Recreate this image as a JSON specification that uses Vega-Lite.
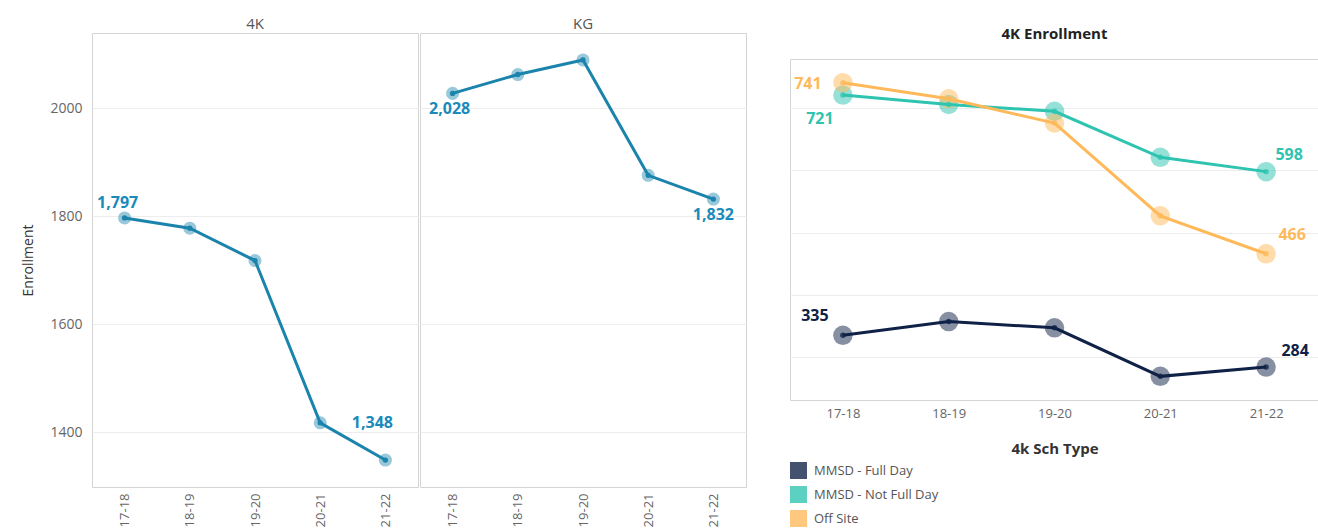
{
  "$schema": "https://vega.github.io/schema/vega-lite/v6.json",
  "padding": {"left": 21, "top": 16, "right": 0, "bottom": 0},
  "background": "white",
  "config": {
    "font": "Open Sans",
    "view": {"stroke": "#d4d4d4"},
    "axis": {"gridColor": "#ededed", "domain": false, "ticks": false, "labelColor": "#666", "labelFontSize": 13, "titleFontWeight": "normal", "titleColor": "#333"},
    "title": {"fontSize": 15, "fontWeight": "normal", "color": "#555", "anchor": "middle"}
  },
  "datasets": {
    "grade": [
      {"Grade": "4K", "Year": "17-18", "Enrollment": 1797},
      {"Grade": "4K", "Year": "18-19", "Enrollment": 1778},
      {"Grade": "4K", "Year": "19-20", "Enrollment": 1718},
      {"Grade": "4K", "Year": "20-21", "Enrollment": 1417},
      {"Grade": "4K", "Year": "21-22", "Enrollment": 1348},
      {"Grade": "KG", "Year": "17-18", "Enrollment": 2028},
      {"Grade": "KG", "Year": "18-19", "Enrollment": 2063},
      {"Grade": "KG", "Year": "19-20", "Enrollment": 2090},
      {"Grade": "KG", "Year": "20-21", "Enrollment": 1876},
      {"Grade": "KG", "Year": "21-22", "Enrollment": 1832}
    ],
    "types": [
      {"Type": "MMSD - Full Day", "Year": "17-18", "Enrollment": 335},
      {"Type": "MMSD - Full Day", "Year": "18-19", "Enrollment": 357},
      {"Type": "MMSD - Full Day", "Year": "19-20", "Enrollment": 347},
      {"Type": "MMSD - Full Day", "Year": "20-21", "Enrollment": 269},
      {"Type": "MMSD - Full Day", "Year": "21-22", "Enrollment": 284},
      {"Type": "MMSD - Not Full Day", "Year": "17-18", "Enrollment": 721},
      {"Type": "MMSD - Not Full Day", "Year": "18-19", "Enrollment": 706},
      {"Type": "MMSD - Not Full Day", "Year": "19-20", "Enrollment": 695},
      {"Type": "MMSD - Not Full Day", "Year": "20-21", "Enrollment": 621},
      {"Type": "MMSD - Not Full Day", "Year": "21-22", "Enrollment": 598},
      {"Type": "Off Site", "Year": "17-18", "Enrollment": 741},
      {"Type": "Off Site", "Year": "18-19", "Enrollment": 715},
      {"Type": "Off Site", "Year": "19-20", "Enrollment": 676},
      {"Type": "Off Site", "Year": "20-21", "Enrollment": 527},
      {"Type": "Off Site", "Year": "21-22", "Enrollment": 466}
    ]
  },
  "resolve": {"scale": {"color": "independent"}, "legend": {"color": "independent"}},
  "spacing": 42,
  "hconcat": [
    {
      "spacing": 0,
      "hconcat": [
        {
          "width": 326,
          "height": 454,
          "title": {"text": "4K", "offset": 1},
          "data": {"name": "grade"},
          "transform": [{"filter": "datum.Grade == '4K'"}],
          "encoding": {
            "x": {"field": "Year", "type": "ordinal", "scale": {"type": "point", "padding": 0.5}, "axis": {"title": null, "labelAngle": -90, "labelPadding": 6, "grid": false}},
            "y": {"field": "Enrollment", "type": "quantitative", "scale": {"domain": [1298, 2140], "nice": false, "zero": false}, "axis": {"title": "Enrollment", "titleFontSize": 14, "labelFontSize": 14, "values": [1400, 1600, 1800, 2000], "format": "d", "labelPadding": 10, "titlePadding": 14}}
          },
          "layer": [
            {"mark": {"type": "line", "color": "#1b84ad", "strokeWidth": 3}},
            {"mark": {"type": "circle", "size": 170, "color": "#1b84ad", "opacity": 0.45}},
            {"mark": {"type": "circle", "size": 28, "color": "#1b84ad", "opacity": 1}},
            {"transform": [{"filter": "datum.Year == '17-18'"}], "mark": {"type": "text", "dx": -7, "dy": -15, "fontSize": 16, "fontWeight": "bold", "color": "#1a8abb"}, "encoding": {"text": {"field": "Enrollment", "type": "quantitative", "format": ","}}},
            {"transform": [{"filter": "datum.Year == '21-22'"}], "mark": {"type": "text", "dx": -13, "dy": -37, "fontSize": 16, "fontWeight": "bold", "color": "#1a8abb"}, "encoding": {"text": {"field": "Enrollment", "type": "quantitative", "format": ","}}}
          ]
        },
        {
          "width": 326,
          "height": 454,
          "title": {"text": "KG", "offset": 1},
          "data": {"name": "grade"},
          "transform": [{"filter": "datum.Grade == 'KG'"}],
          "encoding": {
            "x": {"field": "Year", "type": "ordinal", "scale": {"type": "point", "padding": 0.5}, "axis": {"title": null, "labelAngle": -90, "labelPadding": 6, "grid": false}},
            "y": {"field": "Enrollment", "type": "quantitative", "scale": {"domain": [1298, 2140], "nice": false, "zero": false}, "axis": {"title": null, "labels": false, "labelPadding": 0, "minExtent": 0, "maxExtent": 0, "values": [1400, 1600, 1800, 2000]}}
          },
          "layer": [
            {"mark": {"type": "line", "color": "#1b84ad", "strokeWidth": 3}},
            {"mark": {"type": "circle", "size": 170, "color": "#1b84ad", "opacity": 0.45}},
            {"mark": {"type": "circle", "size": 28, "color": "#1b84ad", "opacity": 1}},
            {"transform": [{"filter": "datum.Year == '17-18'"}], "mark": {"type": "text", "dx": -3, "dy": 16, "fontSize": 16, "fontWeight": "bold", "color": "#1a8abb"}, "encoding": {"text": {"field": "Enrollment", "type": "quantitative", "format": ","}}},
            {"transform": [{"filter": "datum.Year == '21-22'"}], "mark": {"type": "text", "dx": 0, "dy": 16, "fontSize": 16, "fontWeight": "bold", "color": "#1a8abb"}, "encoding": {"text": {"field": "Enrollment", "type": "quantitative", "format": ","}}}
          ]
        }
      ]
    },
    {
      "spacing": 0,
      "resolve": {"scale": {"color": "independent"}, "legend": {"color": "independent"}},
      "vconcat": [
        {
          "width": 529,
          "height": 25,
          "view": {"stroke": null},
          "title": {"text": "4K Enrollment", "offset": -9, "fontWeight": "bold", "color": "#222"},
          "data": {"values": [{"t": ""}]},
          "mark": {"type": "text"},
          "encoding": {"text": {"field": "t", "type": "nominal"}}
        },
        {
          "width": 529,
          "height": 341,
          "data": {"name": "types"},
          "encoding": {
            "x": {"field": "Year", "type": "ordinal", "scale": {"type": "point", "padding": 0.5}, "axis": {"title": "4k Sch Type", "titleFontSize": 15, "titleFontWeight": "bold", "titleColor": "#333", "titlePadding": 21, "labelAngle": 0, "labelPadding": 7, "grid": false}},
            "y": {"field": "Enrollment", "type": "quantitative", "scale": {"domain": [231, 779], "nice": false, "zero": false}, "axis": {"title": null, "labels": false, "values": [300, 400, 500, 600, 700]}}
          },
          "layer": [
            {"mark": {"type": "circle", "size": 380, "opacity": 0.5}, "encoding": {"color": {"field": "Type", "type": "nominal", "scale": {"domain": ["MMSD - Full Day", "MMSD - Not Full Day", "Off Site"], "range": ["#0f2147", "#2ec4b0", "#ffb95a"]}, "legend": {"title": null, "orient": "bottom", "direction": "vertical", "symbolType": "square", "symbolSize": 289, "symbolOpacity": 0.78, "symbolStrokeWidth": 0, "labelFontSize": 13, "labelColor": "#555", "labelOffset": 7, "rowPadding": 7, "offset": 6}}}},
            {"mark": {"type": "line", "strokeWidth": 3}, "encoding": {"color": {"field": "Type", "type": "nominal"}}},
            {"mark": {"type": "circle", "size": 30, "opacity": 0.78}, "encoding": {"color": {"field": "Type", "type": "nominal"}}},
            {"transform": [{"filter": "datum.Type == 'Off Site' && datum.Year == '17-18'"}], "mark": {"type": "text", "dx": -35, "dy": 1, "fontSize": 16, "fontWeight": "bold", "color": "#ffb95a"}, "encoding": {"text": {"field": "Enrollment", "type": "quantitative"}}},
            {"transform": [{"filter": "datum.Type == 'MMSD - Not Full Day' && datum.Year == '17-18'"}], "mark": {"type": "text", "dx": -23, "dy": 24, "fontSize": 16, "fontWeight": "bold", "color": "#2ec4b0"}, "encoding": {"text": {"field": "Enrollment", "type": "quantitative"}}},
            {"transform": [{"filter": "datum.Type == 'MMSD - Full Day' && datum.Year == '17-18'"}], "mark": {"type": "text", "dx": -28, "dy": -19, "fontSize": 16, "fontWeight": "bold", "color": "#0f2147"}, "encoding": {"text": {"field": "Enrollment", "type": "quantitative"}}},
            {"transform": [{"filter": "datum.Type == 'MMSD - Not Full Day' && datum.Year == '21-22'"}], "mark": {"type": "text", "dx": 23, "dy": -17, "fontSize": 16, "fontWeight": "bold", "color": "#2ec4b0"}, "encoding": {"text": {"field": "Enrollment", "type": "quantitative"}}},
            {"transform": [{"filter": "datum.Type == 'Off Site' && datum.Year == '21-22'"}], "mark": {"type": "text", "dx": 26, "dy": -19, "fontSize": 16, "fontWeight": "bold", "color": "#ffb95a"}, "encoding": {"text": {"field": "Enrollment", "type": "quantitative"}}},
            {"transform": [{"filter": "datum.Type == 'MMSD - Full Day' && datum.Year == '21-22'"}], "mark": {"type": "text", "dx": 29, "dy": -16, "fontSize": 16, "fontWeight": "bold", "color": "#0f2147"}, "encoding": {"text": {"field": "Enrollment", "type": "quantitative"}}}
          ]
        }
      ]
    }
  ]
}
